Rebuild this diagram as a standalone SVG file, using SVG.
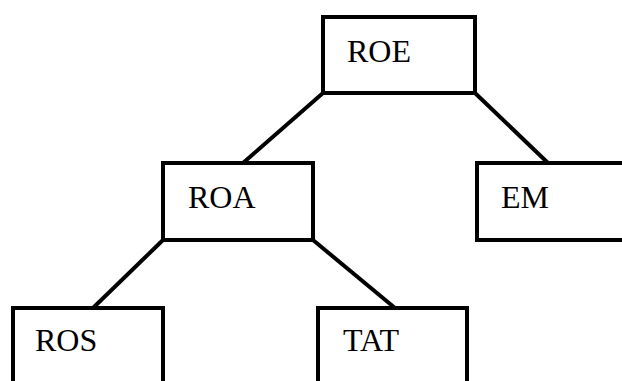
<svg xmlns="http://www.w3.org/2000/svg" width="622" height="381" viewBox="0 0 622 381">
  <style>
    .box { fill: #ffffff; stroke: #000000; stroke-width: 4; }
    .edge { stroke: #000000; stroke-width: 4; fill: none; }
    .label { font-family: "Liberation Serif", "Times New Roman", serif; font-size: 32px; fill: #000000; }
  </style>
  <rect width="622" height="381" fill="#ffffff"/>
  <g id="connectors">
    <line class="edge" x1="323" y1="93" x2="243" y2="163"/>
    <line class="edge" x1="475" y1="93" x2="548" y2="163"/>
    <line class="edge" x1="163" y1="240" x2="93" y2="308"/>
    <line class="edge" x1="313" y1="240" x2="395" y2="308"/>
  </g>
  <g id="node-roe">
    <rect class="box" x="323" y="17" width="152" height="76"/>
    <text class="label" x="347" y="62">ROE</text>
  </g>
  <g id="node-roa">
    <rect class="box" x="163" y="163" width="150" height="77"/>
    <text class="label" x="188" y="208">ROA</text>
  </g>
  <g id="node-em">
    <rect class="box" x="477" y="163" width="150" height="77"/>
    <text class="label" x="501" y="208">EM</text>
  </g>
  <g id="node-ros">
    <rect class="box" x="13" y="308" width="150" height="77"/>
    <text class="label" x="35" y="351">ROS</text>
  </g>
  <g id="node-tat">
    <rect class="box" x="318" y="308" width="149" height="77"/>
    <text class="label" x="343" y="351">TAT</text>
  </g>
</svg>
